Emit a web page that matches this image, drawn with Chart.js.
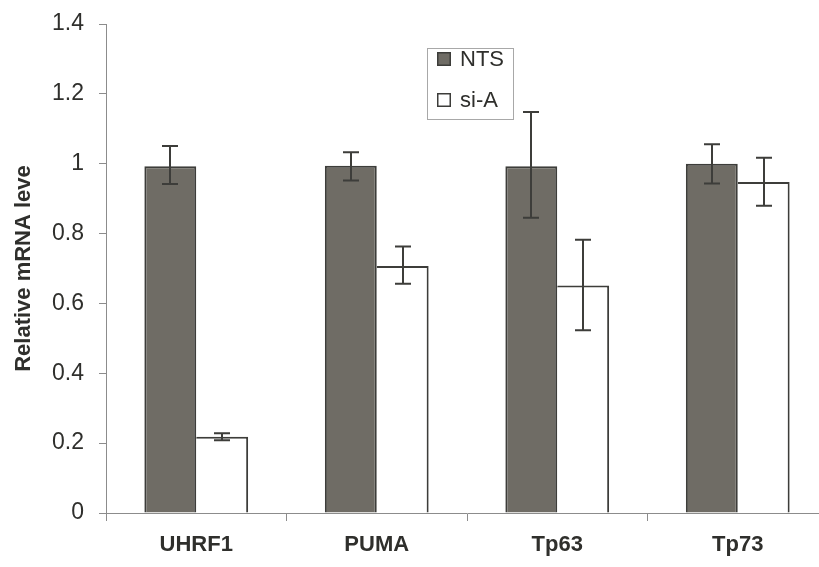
<!DOCTYPE html>
<html>
<head>
<meta charset="utf-8">
<script src="https://cdn.jsdelivr.net/npm/chart.js@4/dist/chart.umd.min.js"></script>
<style>
  html, body { margin: 0; padding: 0; background: #fff; overflow: hidden; }
  #wrap { width: 832px; height: 567px; position: relative; }
</style>
</head>
<body>
<div id="wrap"><canvas id="chart"></canvas></div>
<script>
// values
const categories = ["UHRF1", "PUMA", "Tp63", "Tp73"];
const ntsValues = [0.993, 0.994, 0.993, 1.0];
const ntsUpper = [1.051, 1.033, 1.148, 1.056];
const ntsLower = [0.942, 0.952, 0.845, 0.943];
const siaValues = [0.218, 0.707, 0.651, 0.948];
const siaUpper = [0.228, 0.763, 0.782, 1.017];
const siaLower = [0.208, 0.656, 0.523, 0.88];
const yTicks = [0, 0.2, 0.4, 0.6, 0.8, 1, 1.2, 1.4];

const textColor = "#2f2f2c";
const lineColor = "#3d3d3a";
const axisColor = "#8c8c8c";

// draws the error bars through the y scale
const errorBars = {
  id: "errorBars",
  afterDatasetsDraw(chart) {
    const ctx = chart.ctx;
    const y = chart.scales.y;
    ctx.save();
    ctx.strokeStyle = lineColor;
    ctx.lineWidth = 2;
    chart.data.datasets.forEach((ds, i) => {
      chart.getDatasetMeta(i).data.forEach((bar, j) => {
        const x = Math.round(bar.x);
        const hi = y.getPixelForValue(ds.errUpper[j]);
        const lo = y.getPixelForValue(ds.errLower[j]);
        ctx.beginPath();
        ctx.moveTo(x, hi);
        ctx.lineTo(x, lo);
        ctx.moveTo(x - 8, hi);
        ctx.lineTo(x + 8, hi);
        ctx.moveTo(x - 8, lo);
        ctx.lineTo(x + 8, lo);
        ctx.stroke();
      });
    });
    ctx.restore();
  },
};

// legend box inside the plot
const boxLegend = {
  id: "boxLegend",
  afterDraw(chart) {
    const ctx = chart.ctx;
    const left = 427, top = 48, w = 86, h = 71;
    ctx.save();
    ctx.fillStyle = "#fff";
    ctx.fillRect(left, top, w, h);
    ctx.strokeStyle = "#a8a8a8";
    ctx.lineWidth = 1;
    ctx.strokeRect(left + 0.5, top + 0.5, w, h);
    ctx.font = "22px 'Liberation Sans', Arial, sans-serif";
    ctx.textBaseline = "middle";
    chart.data.datasets.forEach((ds, i) => {
      const cy = top + 11 + i * 41;
      ctx.fillStyle = lineColor;
      ctx.fillRect(437, cy - 7, 14, 14);
      ctx.fillStyle = ds.backgroundColor;
      ctx.fillRect(438.5, cy - 5.5, 11, 11);
      ctx.fillStyle = textColor;
      ctx.fillText(ds.label, 460, cy + 1);
    });
    ctx.restore();
  },
};

new Chart(document.getElementById("chart"), {
  type: "bar",
  data: {
    labels: categories,
    datasets: [
      {
        label: "NTS",
        data: ntsValues,
        errUpper: ntsUpper,
        errLower: ntsLower,
        backgroundColor: "#6f6c65",
        borderColor: lineColor,
        borderWidth: 2,
      },
      {
        label: "si-A",
        data: siaValues,
        errUpper: siaUpper,
        errLower: siaLower,
        backgroundColor: "#ffffff",
        borderColor: lineColor,
        borderWidth: { top: 2, right: 2, left: 0, bottom: 0 },
      },
    ],
  },
  options: {
    responsive: true,
    maintainAspectRatio: false,
    animation: false,
    layout: { padding: { top: 24, right: 4, left: 0, bottom: 0 } },
    datasets: { bar: { categoryPercentage: 0.575, barPercentage: 1 } },
    plugins: { legend: { display: false }, tooltip: { enabled: false } },
    scales: {
      x: {
        offset: true,
        grid: { offset: true, drawOnChartArea: false, drawTicks: true, tickLength: 8, color: axisColor },
        border: { color: axisColor, width: 1 },
        ticks: {
          color: textColor,
          padding: 11,
          font: { family: "'Liberation Sans', Arial, sans-serif", size: 22, weight: "bold" },
        },
        afterFit: (s) => { s.height = 54; },
      },
      y: {
        min: 0,
        max: 1.4,
        afterBuildTicks: (s) => { s.ticks = yTicks.map((v) => ({ value: v })); },
        grid: { drawOnChartArea: false, drawTicks: true, tickLength: 7, color: axisColor },
        border: { color: axisColor, width: 1 },
        ticks: {
          color: textColor,
          padding: 15,
          font: { family: "'Liberation Sans', Arial, sans-serif", size: 23 },
          callback: (v) => String(Math.round(v * 10) / 10),
        },
        title: {
          display: true,
          text: "Relative mRNA leve",
          color: textColor,
          padding: { top: 11, bottom: 0 },
          font: { family: "'Liberation Sans', Arial, sans-serif", size: 22, weight: "bold" },
        },
        afterFit: (s) => {
          s.width = 106;
          s.paddingTop = 0;
          s.paddingBottom = 0;
        },
      },
    },
  },
  plugins: [errorBars, boxLegend],
});
</script>
</body>
</html>
